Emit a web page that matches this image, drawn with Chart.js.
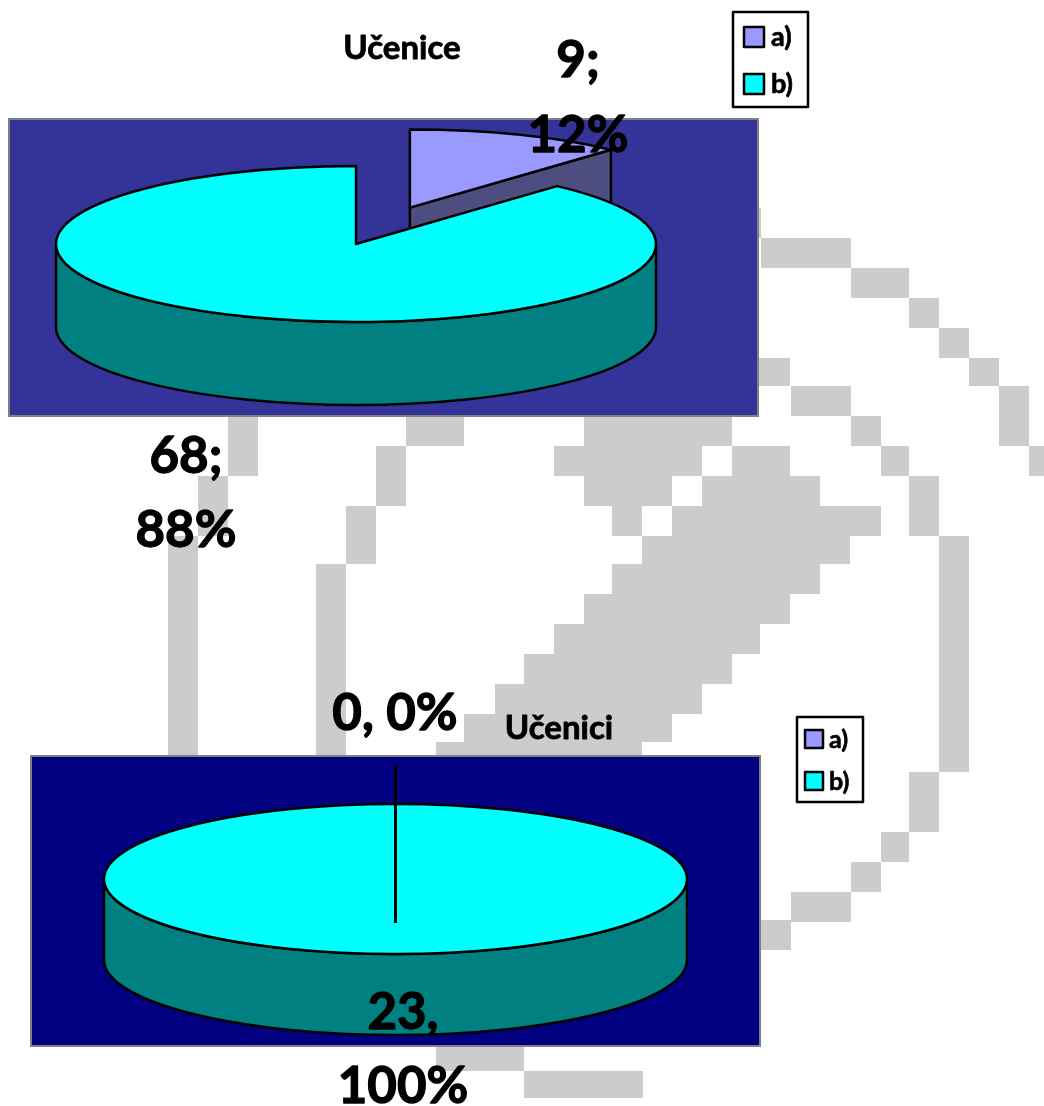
<!DOCTYPE html>
<html>
<head>
<meta charset="utf-8">
<title>Učenice / Učenici</title>
<style>
  html, body { margin: 0; padding: 0; background: #fff; overflow: hidden; }
  canvas { position: absolute; left: 0; top: 0; }
</style>
<script src="https://cdn.jsdelivr.net/npm/chart.js@4"></script>
</head>
<body>
<canvas id="chartGirls" width="1044" height="1106"></canvas>
<canvas id="chartBoys" width="1044" height="1106"></canvas>
<script>
var categories = ["a)", "b)"];
var girlsValues = [9, 68];
var boysValues = [0, 23];
var sliceColors = ["#9999FF", "#00FFFF"];
var wallColors = ["#4D4D80", "#008080"];

// grey pixel logo behind the charts: x, y, w, h
var logoBlocks = [
  [759, 208, 2, 30], [761, 238, 90, 30], [851, 268, 58, 30], [909, 298, 30, 30], [939, 328, 30, 30],
  [969, 358, 30, 28], [999, 386, 30, 60], [1029, 446, 15, 30],
  [759, 358, 31, 28], [791, 386, 60, 30], [851, 416, 30, 30], [881, 446, 28, 30], [909, 476, 30, 60],
  [939, 536, 30, 236], [909, 772, 30, 60], [881, 832, 28, 30], [851, 862, 30, 30], [791, 892, 60, 30],
  [759, 920, 32, 30],
  [584, 416, 148, 30], [554, 446, 148, 30], [732, 446, 58, 30], [584, 476, 88, 30], [702, 476, 118, 30],
  [612, 506, 30, 30], [672, 506, 209, 30], [642, 536, 208, 28], [612, 564, 208, 30], [584, 594, 206, 30],
  [554, 624, 206, 30], [524, 654, 208, 30], [495, 684, 207, 30], [464, 714, 208, 28], [436, 742, 206, 16],
  [168, 536, 30, 220], [198, 476, 30, 60], [228, 416, 30, 60],
  [316, 564, 30, 192], [346, 506, 30, 58], [376, 446, 30, 60], [406, 416, 58, 30],
  [436, 1046, 88, 25], [524, 1071, 119, 27]
];

var font = "Lato";

function pct(v, values) {
  var sum = values.reduce(function (a, b) { return a + b; }, 0);
  return Math.round(v / sum * 100) + "%";
}

function drawText(ctx, text, x, y, size, align) {
  ctx.font = "bold " + size + "px " + font;
  ctx.fillStyle = "#000";
  ctx.strokeStyle = "#000";
  ctx.lineWidth = size * 0.025;
  ctx.lineJoin = "round";
  ctx.textAlign = align || "center";
  ctx.textBaseline = "alphabetic";
  ctx.fillText(text, x, y);
  ctx.strokeText(text, x, y);
}

function sectorPath(ctx, cx, cy, rx, ry, start, end) {
  ctx.beginPath();
  if (end - start >= Math.PI * 2 - 0.0001) {
    ctx.ellipse(cx, cy, rx, ry, 0, 0, Math.PI * 2);
  } else {
    ctx.moveTo(cx, cy);
    ctx.ellipse(cx, cy, rx, ry, 0, start, end);
  }
  ctx.closePath();
}

// side of the pie piece, only the parts that face the viewer
function drawWalls(ctx, cx, cy, rx, ry, depth, start, end, color) {
  ctx.fillStyle = color;
  ctx.strokeStyle = "#000";
  ctx.lineWidth = 2.5;
  ctx.lineJoin = "round";
  var full = end - start >= Math.PI * 2 - 0.0001;

  function edge(angle) {
    var ex = cx + Math.cos(angle) * rx;
    var ey = cy + Math.sin(angle) * ry;
    ctx.beginPath();
    ctx.moveTo(cx, cy);
    ctx.lineTo(ex, ey);
    ctx.lineTo(ex, ey + depth);
    ctx.lineTo(cx, cy + depth);
    ctx.closePath();
    ctx.fill();
    ctx.stroke();
  }
  if (!full && -Math.cos(start) > 0) edge(start);
  if (!full && Math.cos(end) > 0) edge(end);

  for (var k = -1; k <= 1; k++) {
    var a = Math.max(start, k * Math.PI * 2);
    var b = Math.min(end, k * Math.PI * 2 + Math.PI);
    if (b <= a) continue;
    ctx.beginPath();
    ctx.ellipse(cx, cy, rx, ry, 0, a, b);
    ctx.ellipse(cx, cy + depth, rx, ry, 0, b, a, true);
    ctx.closePath();
    ctx.fill();
    ctx.stroke();
  }
}

function drawLegend(ctx, chart, box) {
  ctx.fillStyle = "#fff";
  ctx.fillRect(box.x, box.y, box.w, box.h);
  ctx.strokeStyle = "#000";
  ctx.lineWidth = 2.5;
  ctx.strokeRect(box.x, box.y, box.w, box.h);
  chart.data.labels.forEach(function (label, i) {
    var ky = box.keyY[i];
    ctx.fillStyle = chart.data.datasets[0].backgroundColor[i];
    ctx.fillRect(box.keyX, ky, box.key, box.key);
    ctx.strokeStyle = "#000";
    ctx.lineWidth = 2.5;
    ctx.strokeRect(box.keyX, ky, box.key, box.key);
    drawText(ctx, label, box.textX, box.textY[i], box.size, "left");
  });
}

function pie3d(layout) {
  return {
    id: "pie3d",
    beforeDraw: function (chart) {
      var ctx = chart.ctx, p = layout.plot;
      ctx.save();
      if (layout.logo) {
        ctx.fillStyle = "#CCCCCC";
        logoBlocks.forEach(function (r) { ctx.fillRect(r[0], r[1], r[2], r[3]); });
      }
      ctx.fillStyle = layout.plotColor;
      ctx.fillRect(p.x, p.y, p.w, p.h);
      ctx.strokeStyle = "#808080";
      ctx.lineWidth = 2;
      ctx.strokeRect(p.x, p.y, p.w, p.h);
      ctx.restore();
    },
    beforeDatasetsDraw: function (chart) {
      var ctx = chart.ctx;
      var arcs = chart.getDatasetMeta(0).data;
      ctx.save();
      arcs.forEach(function (arc, i) {
        if (arc.circumference <= 0) return;
        var rx = arc.outerRadius;
        var ry = layout.ry;
        var mid = (arc.startAngle + arc.endAngle) / 2;
        var off = layout.explode[i] || 0;
        var cx = layout.cx + Math.cos(mid) * off;
        var cy = layout.cy + Math.sin(mid) * off * ry / rx;
        drawWalls(ctx, cx, cy, rx, ry, layout.depth, arc.startAngle, arc.endAngle, wallColors[i]);
        sectorPath(ctx, cx, cy, rx, ry, arc.startAngle, arc.endAngle);
        ctx.fillStyle = chart.data.datasets[0].backgroundColor[i];
        ctx.strokeStyle = "#000";
        ctx.lineWidth = 2.5;
        ctx.fill();
        ctx.stroke();
      });
      ctx.restore();
      return false;
    },
    afterDraw: function (chart) {
      var ctx = chart.ctx;
      ctx.save();
      if (layout.leader) {
        ctx.strokeStyle = "#000";
        ctx.lineWidth = 3;
        ctx.beginPath();
        ctx.moveTo(layout.leader.x, layout.leader.y1);
        ctx.lineTo(layout.leader.x, layout.leader.y2);
        ctx.stroke();
      }
      layout.labels(chart.data.datasets[0].data).forEach(function (l) {
        drawText(ctx, l[0], l[1], l[2], layout.labelSize);
      });
      drawText(ctx, layout.title, layout.titleX, layout.titleY, layout.titleSize);
      drawLegend(ctx, chart, layout.legend);
      ctx.restore();
    }
  };
}

function makeChart(id, values, radius, layout) {
  return new Chart(document.getElementById(id), {
    type: "pie",
    data: {
      labels: categories,
      datasets: [{ data: values, backgroundColor: sliceColors, borderWidth: 0, hoverOffset: 0 }]
    },
    options: {
      responsive: false,
      animation: false,
      radius: radius,
      events: [],
      plugins: { legend: { display: false }, title: { display: false }, tooltip: { enabled: false } }
    },
    plugins: [pie3d(layout)]
  });
}

makeChart("chartGirls", girlsValues, 300, {
  logo: true,
  cx: 356, cy: 244, ry: 78, depth: 83, explode: [150, 0],
  plot: { x: 9, y: 119, w: 749, h: 297 }, plotColor: "#333399",
  title: "Učenice", titleX: 402, titleY: 59, titleSize: 33,
  labelSize: 51,
  labels: function (v) {
    return [
      [v[0] + ";", 578, 77],
      [pct(v[0], v), 578, 152],
      [v[1] + ";", 186, 473],
      [pct(v[1], v), 186, 547]
    ];
  },
  legend: { x: 733, y: 12, w: 75, h: 95, keyX: 744, key: 20, keyY: [27, 74], textX: 771, textY: [46, 93], size: 27 }
});

makeChart("chartBoys", boysValues, 291.5, {
  cx: 395.5, cy: 879, ry: 75, depth: 81, explode: [0, 0],
  plot: { x: 31, y: 756, w: 729, h: 290 }, plotColor: "#000080",
  title: "Učenici", titleX: 559, titleY: 739, titleSize: 33,
  labelSize: 51,
  leader: { x: 395.5, y1: 765, y2: 923 },
  labels: function (v) {
    return [
      [v[0] + ", " + pct(v[0], v), 395, 730],
      [v[1] + ",", 403, 1029],
      [pct(v[1], v), 403, 1103]
    ];
  },
  legend: { x: 797, y: 717, w: 66, h: 85, keyX: 805, key: 18, keyY: [730, 772], textX: 829, textY: [748, 790], size: 25 }
});
</script>
</body>
</html>
